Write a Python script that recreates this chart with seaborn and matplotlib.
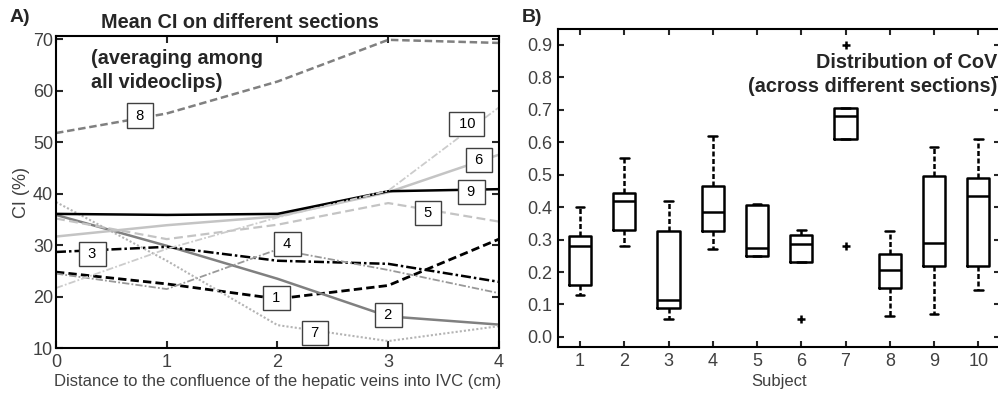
import numpy as np
import pandas as pd
import matplotlib
matplotlib.use("Agg")
import matplotlib.pyplot as plt
import seaborn as sns

# ---------------- data ----------------
distance = [0, 1, 2, 3, 4]
subjects = ["1", "2", "3", "4", "5", "6", "7", "8", "9", "10"]

ci_s1 = [24.8, 22.5, 19.6, 22.2, 31.2]
ci_s2 = [35.9, 29.9, 23.5, 16.2, 14.6]
ci_s3 = [28.7, 29.7, 27.0, 26.4, 22.9]
ci_s4 = [24.5, 21.5, 29.2, 25.2, 20.7]
ci_s5 = [35.2, 31.2, 34.0, 38.2, 34.6]
ci_s6 = [31.7, 33.9, 35.6, 40.3, 47.6]
ci_s7 = [38.4, 27.0, 14.5, 11.4, 14.3]
ci_s8 = [51.8, 55.6, 61.8, 69.9, 69.3]
ci_s9 = [36.1, 35.9, 36.1, 40.5, 40.9]
ci_s10 = [21.7, 29.3, 35.4, 40.6, 56.8]
ci_series = [ci_s1, ci_s2, ci_s3, ci_s4, ci_s5, ci_s6, ci_s7, ci_s8, ci_s9, ci_s10]

# label box positions (x, y) for each subject line
label_x = [1.99, 3.0, 0.33, 2.09, 3.36, 3.82, 2.34, 0.76, 3.75, 3.71]
label_y = [19.8, 16.5, 28.3, 30.2, 36.3, 46.5, 13.0, 55.2, 40.4, 53.5]

# CoV per section (5 sections) for each subject
cov_s1 = [0.13, 0.16, 0.28, 0.31, 0.40]
cov_s2 = [0.28, 0.33, 0.42, 0.445, 0.55]
cov_s3 = [0.055, 0.09, 0.115, 0.325, 0.42]
cov_s4 = [0.27, 0.325, 0.385, 0.465, 0.62]
cov_s5 = [0.25, 0.25, 0.275, 0.405, 0.41]
cov_s6 = [0.055, 0.23, 0.285, 0.315, 0.33]
cov_s7 = [0.28, 0.61, 0.68, 0.705, 0.90]
cov_s8 = [0.065, 0.15, 0.205, 0.255, 0.325]
cov_s9 = [0.07, 0.22, 0.29, 0.495, 0.585]
cov_s10 = [0.145, 0.22, 0.435, 0.49, 0.61]
cov_series = [cov_s1, cov_s2, cov_s3, cov_s4, cov_s5, cov_s6, cov_s7, cov_s8, cov_s9, cov_s10]

# ---------------- style ----------------
sns.set_style("ticks")
plt.rcParams["font.family"] = ["Liberation Sans", "DejaVu Sans"]
plt.rcParams["axes.linewidth"] = 1.5

tick_color = "#404040"

line_styles = [
    dict(color="black", ls=(0, (3, 1.5)), lw=2.0),
    dict(color="#808080", ls="-", lw=1.8),
    dict(color="black", ls=(0, (4, 1.2, 1, 1.2)), lw=1.8),
    dict(color="#999999", ls=(0, (4, 1.2, 1, 1.2)), lw=1.3),
    dict(color="#c4c4c4", ls=(0, (4, 2)), lw=1.6),
    dict(color="#c4c4c4", ls="-", lw=1.8),
    dict(color="#b4b4b4", ls=(0, (1, 1)), lw=1.5),
    dict(color="#808080", ls=(0, (3, 1.5)), lw=1.8),
    dict(color="black", ls="-", lw=1.8),
    dict(color="#cccccc", ls=(0, (4, 1.2, 1, 1.2)), lw=1.3),
]

fig = plt.figure(figsize=(9.98, 3.96), dpi=100)
axA = fig.add_axes([0.0561, 0.1205, 0.4439, 0.7893])
axB = fig.add_axes([0.559, 0.123, 0.4434, 0.8038])

# ---------------- panel A ----------------
for i, vals in enumerate(ci_series):
    st = line_styles[i]
    sns.lineplot(x=distance, y=vals, ax=axA, color=st["color"],
                 linestyle=st["ls"], linewidth=st["lw"], legend=False)
for i, s in enumerate(subjects):
    axA.text(label_x[i], label_y[i], " " + s + " ", ha="center", va="center",
             fontsize=10.5, color="black", zorder=5,
             bbox=dict(boxstyle="square,pad=0.35", fc="white", ec="#404040", lw=1.0))

axA.set_xlim(0, 4)
axA.set_ylim(10, 70.7)
axA.set_xticks([0, 1, 2, 3, 4])
axA.set_yticks([10, 20, 30, 40, 50, 60, 70])
axA.tick_params(direction="in", length=5, width=1.5, top=True, right=True,
                labelsize=13, labelcolor=tick_color, pad=2)
axA.tick_params(axis="x", pad=4)
axA.set_xlabel("Distance to the confluence of the hepatic veins into IVC (cm)",
               fontsize=12, color=tick_color, labelpad=2)
axA.set_ylabel("CI (%)", fontsize=13, color=tick_color, labelpad=2)
for sp in axA.spines.values():
    sp.set_color("black")

# ---------------- panel B ----------------
df = pd.DataFrame({
    "Subject": np.repeat(subjects, [len(v) for v in cov_series]),
    "CoV": np.concatenate(cov_series),
})
sns.boxplot(data=df, x="Subject", y="CoV", order=subjects, ax=axB,
            fill=False, color="black", linewidth=1.8, width=0.5,
            capwidths=0.2,
            whiskerprops=dict(linestyle=(0, (2, 1)), color="black"),
            flierprops=dict(marker="+", markersize=6, markeredgewidth=1.8,
                            markeredgecolor="black"),
            medianprops=dict(color="black"))
axB.set_xlim(-0.5, 9.5)
axB.set_ylim(-0.032, 0.949)
axB.set_yticks(np.arange(0, 0.91, 0.1))
axB.set_yticklabels([f"{v:.1f}" for v in np.arange(0, 0.91, 0.1)])
axB.tick_params(direction="in", length=4, width=1.5, top=True, right=True,
                labelsize=13, labelcolor=tick_color, pad=4)
axB.set_xlabel("Subject", fontsize=12, color=tick_color, labelpad=3)
axB.set_ylabel("")
for sp in axB.spines.values():
    sp.set_color("black")

# ---------------- annotations ----------------
fig.text(0.010, 0.955, "A)", fontsize=14, fontweight="bold", ha="left", va="center")
fig.text(0.523, 0.955, "B)", fontsize=14, fontweight="bold", ha="left", va="center")
fig.text(240 / 998, 1 - 23 / 396, "Mean CI on different sections", fontsize=14.3,
         fontweight="bold", ha="center", va="center")
fig.text(91 / 998, 1 - 59 / 396, "(averaging among", fontsize=14.3,
         fontweight="bold", ha="left", va="center")
fig.text(91 / 998, 1 - 82 / 396, "all videoclips)", fontsize=14.3,
         fontweight="bold", ha="left", va="center")
fig.text(997 / 998, 1 - 62 / 396, "Distribution of CoV", fontsize=14.3,
         fontweight="bold", ha="right", va="center")
fig.text(997 / 998, 1 - 86 / 396, "(across different sections)", fontsize=14.3,
         fontweight="bold", ha="right", va="center")

fig.savefig("out.png", dpi=100)
